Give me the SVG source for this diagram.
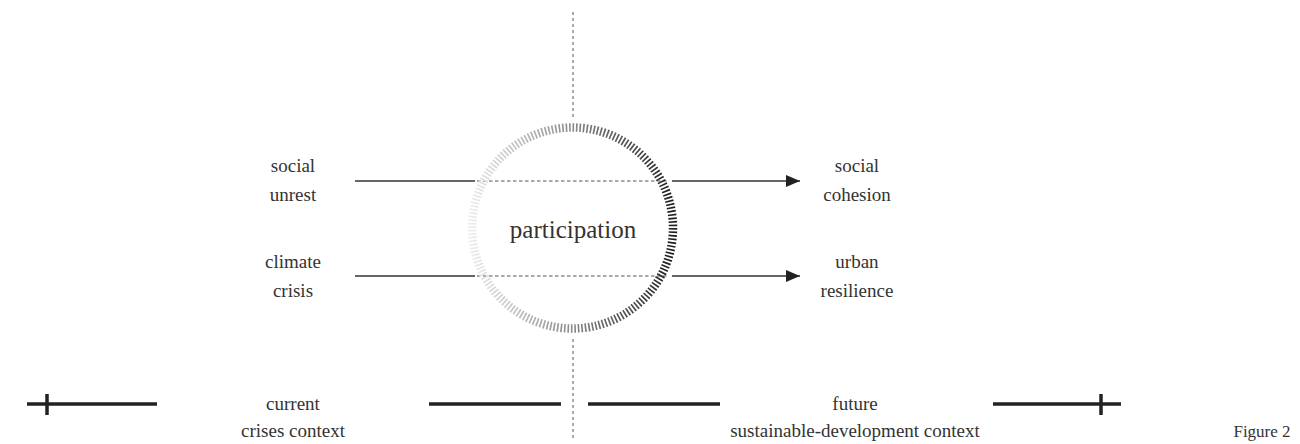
<svg xmlns="http://www.w3.org/2000/svg" width="1300" height="444" viewBox="0 0 1300 444">
  <defs>
    <linearGradient id="ringGrad" gradientUnits="userSpaceOnUse" x1="467" y1="0" x2="678" y2="0">
      <stop offset="0" stop-color="#f0f0f0"/>
      <stop offset="0.5" stop-color="#8a8a8a"/>
      <stop offset="1" stop-color="#1a1a1a"/>
    </linearGradient>
    <marker id="arrow" markerWidth="14" markerHeight="12" refX="14" refY="6" orient="auto" markerUnits="userSpaceOnUse">
      <path d="M0,0 L14,6 L0,12 Z" fill="#222"/>
    </marker>
  </defs>
  <style>
    text { font-family: "Liberation Serif", "DejaVu Serif", serif; fill: #333; text-anchor: middle; }
    .lbl { font-size: 19px; }
    .center { font-size: 25px; }
    .fig { font-size: 17px; }
    .solid { stroke: #333; stroke-width: 1.3; fill: none; }
    .dash { stroke: #555; stroke-width: 1; stroke-dasharray: 3.5 2.5; fill: none; }
    .axis { stroke: #555; stroke-width: 1; stroke-dasharray: 3 3; fill: none; }
    .thick { stroke: #222; stroke-width: 3.5; fill: none; }
  </style>

  <g id="connectors">
    <line class="axis" x1="573" y1="12" x2="573" y2="117"/>
    <line class="axis" x1="573" y1="339" x2="573" y2="440"/>
    <line class="solid" x1="355" y1="181" x2="475" y2="181"/>
    <line class="dash" x1="477" y1="181" x2="669" y2="181"/>
    <line class="solid" x1="672" y1="181" x2="800" y2="181" marker-end="url(#arrow)"/>
    <line class="solid" x1="355" y1="276" x2="475" y2="276"/>
    <line class="dash" x1="477" y1="276" x2="669" y2="276"/>
    <line class="solid" x1="672" y1="276" x2="800" y2="276" marker-end="url(#arrow)"/>
  </g>

  <g id="participation">
    <circle cx="572.5" cy="228" r="100.5" fill="none" stroke="url(#ringGrad)" stroke-width="8.5" pathLength="360" stroke-dasharray="0.95 1.05"/>
    <text class="center" x="573" y="238">participation</text>
  </g>

  <g id="social-unrest">
    <text class="lbl" x="293" y="172">social</text>
    <text class="lbl" x="293" y="201">unrest</text>
  </g>
  <g id="climate-crisis">
    <text class="lbl" x="293" y="268">climate</text>
    <text class="lbl" x="293" y="297">crisis</text>
  </g>
  <g id="social-cohesion">
    <text class="lbl" x="857" y="172">social</text>
    <text class="lbl" x="857" y="201">cohesion</text>
  </g>
  <g id="urban-resilience">
    <text class="lbl" x="857" y="268">urban</text>
    <text class="lbl" x="857" y="297">resilience</text>
  </g>

  <g id="timeline">
    <line class="thick" x1="27" y1="404" x2="157" y2="404"/>
    <line class="thick" x1="47" y1="394" x2="47" y2="415"/>
    <line class="thick" x1="429" y1="404" x2="561" y2="404"/>
    <line class="thick" x1="588" y1="404" x2="720" y2="404"/>
    <line class="thick" x1="993" y1="404" x2="1121" y2="404"/>
    <line class="thick" x1="1101" y1="394" x2="1101" y2="415"/>
  </g>
  <g id="current-context">
    <text class="lbl" x="293" y="410">current</text>
    <text class="lbl" x="293" y="437">crises context</text>
  </g>
  <g id="future-context">
    <text class="lbl" x="855" y="410">future</text>
    <text class="lbl" x="855" y="437">sustainable-development context</text>
  </g>
  <g id="figure-label">
    <text class="fig" x="1262" y="437">Figure 2</text>
  </g>
</svg>
